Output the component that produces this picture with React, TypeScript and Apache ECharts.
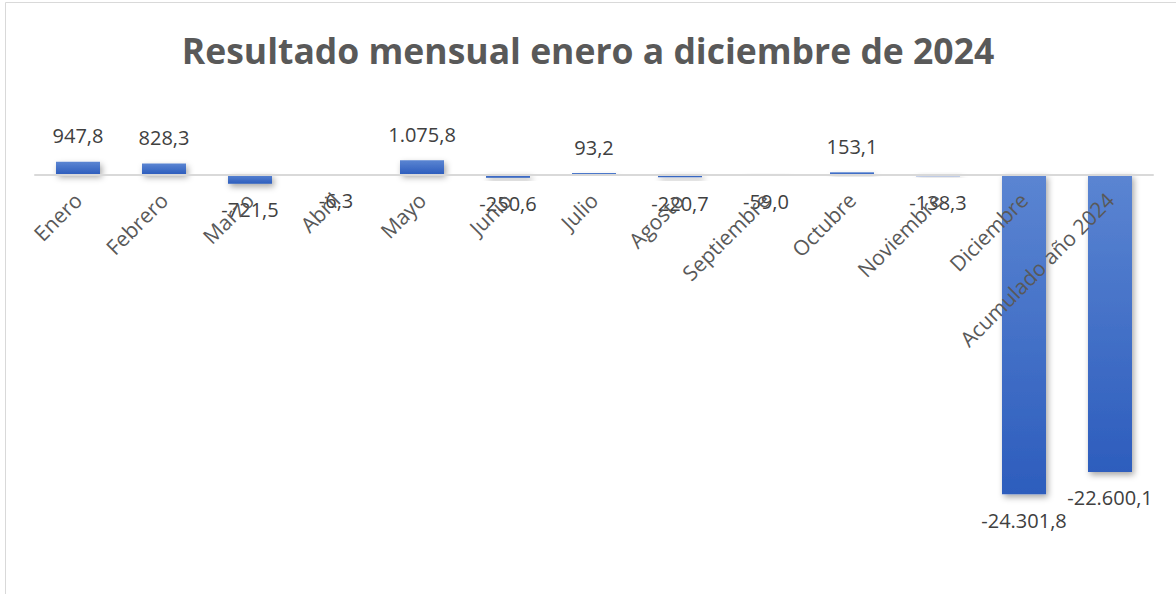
import React, { useEffect, useRef } from "react";
import * as echarts from "echarts";

const categories = [
  "Enero", "Febrero", "Marzo", "Abril", "Mayo", "Junio", "Julio", "Agosto",
  "Septiembre", "Octubre", "Noviembre", "Diciembre", "Acumulado año 2024",
];
const values = [
  947.8, 828.3, -721.5, -6.3, 1075.8, -250.6, 93.2, -220.7, -59.0, 153.1, -138.3, -24301.8, -22600.1,
];
const titleText = "Resultado mensual enero a diciembre de 2024";

function fmt(v: number): string {
  const neg = v < 0;
  const a = Math.abs(v);
  const [ip, dp] = a.toFixed(1).split(".");
  const withSep = ip.replace(/\B(?=(\d{3})+(?!\d))/g, ".");
  return (neg ? "-" : "") + withSep + "," + dp;
}

const Y_MIN = -26000;
const Y_MAX = 2000;
const GRID_TOP = 148;
const GRID_H = 368.7;

export default function App() {
  const ref = useRef<HTMLDivElement>(null);
  useEffect(() => {
    if (!ref.current) return;
    const chart = echarts.init(ref.current, undefined, { renderer: "svg" });
    const font = "'Open Sans', 'Noto Sans', sans-serif";
    const zeroFromBottom = (0 - Y_MIN) / (Y_MAX - Y_MIN) * GRID_H;
    chart.setOption({
      animation: false,
      backgroundColor: "#ffffff",
      title: {
        text: titleText,
        left: "center",
        top: 27,
        textStyle: { fontFamily: font, fontWeight: "bold", fontSize: 35.5, color: "#595959" },
      },
      graphic: [
        {
          type: "rect",
          shape: { x: 5.5, y: 2.5, width: 1200, height: 620 },
          style: { fill: "none", stroke: "#d9d9d9", lineWidth: 1 },
          silent: true,
        },
      ],
      grid: { left: 35, right: 23, top: GRID_TOP, height: GRID_H, outerBoundsMode: "none", containLabel: false },
      xAxis: {
        type: "category",
        data: categories,
        z: 5,
        offset: -zeroFromBottom,
        axisLine: { onZero: false, lineStyle: { color: "#d9d9d9", width: 2 } },
        axisTick: { show: false },
        axisLabel: {
          interval: 0,
          rotate: 45,
          margin: 22,
          fontFamily: font,
          fontSize: 21,
          color: "#595959",
        },
      },
      yAxis: {
        type: "value",
        show: false,
        min: Y_MIN,
        max: Y_MAX,
        splitLine: { show: false },
      },
      series: [
        {
          type: "bar",
          barWidth: 44,
          data: values.map((v) => ({
            value: v,
            label: { position: v >= 0 ? "top" : "bottom" },
          })),
          itemStyle: {
            color: new echarts.graphic.LinearGradient(0, 0, 0, 1, [
              { offset: 0, color: "#5b85d2" },
              { offset: 1, color: "#2d5dbd" },
            ]),
            shadowBlur: 6,
            shadowColor: "rgba(0,0,0,0.35)",
            shadowOffsetX: 2,
            shadowOffsetY: 3,
          },
          label: {
            show: true,
            distance: 16,
            fontFamily: font,
            fontSize: 20,
            color: "#404040",
            formatter: (p: any) => fmt(p.value),
          },
        },
      ],
    });
    return () => chart.dispose();
  }, []);
  return (
    <div
      ref={ref}
      style={{ position: "absolute", left: 0, top: 0, width: 1176, height: 594 }}
    />
  );
}
